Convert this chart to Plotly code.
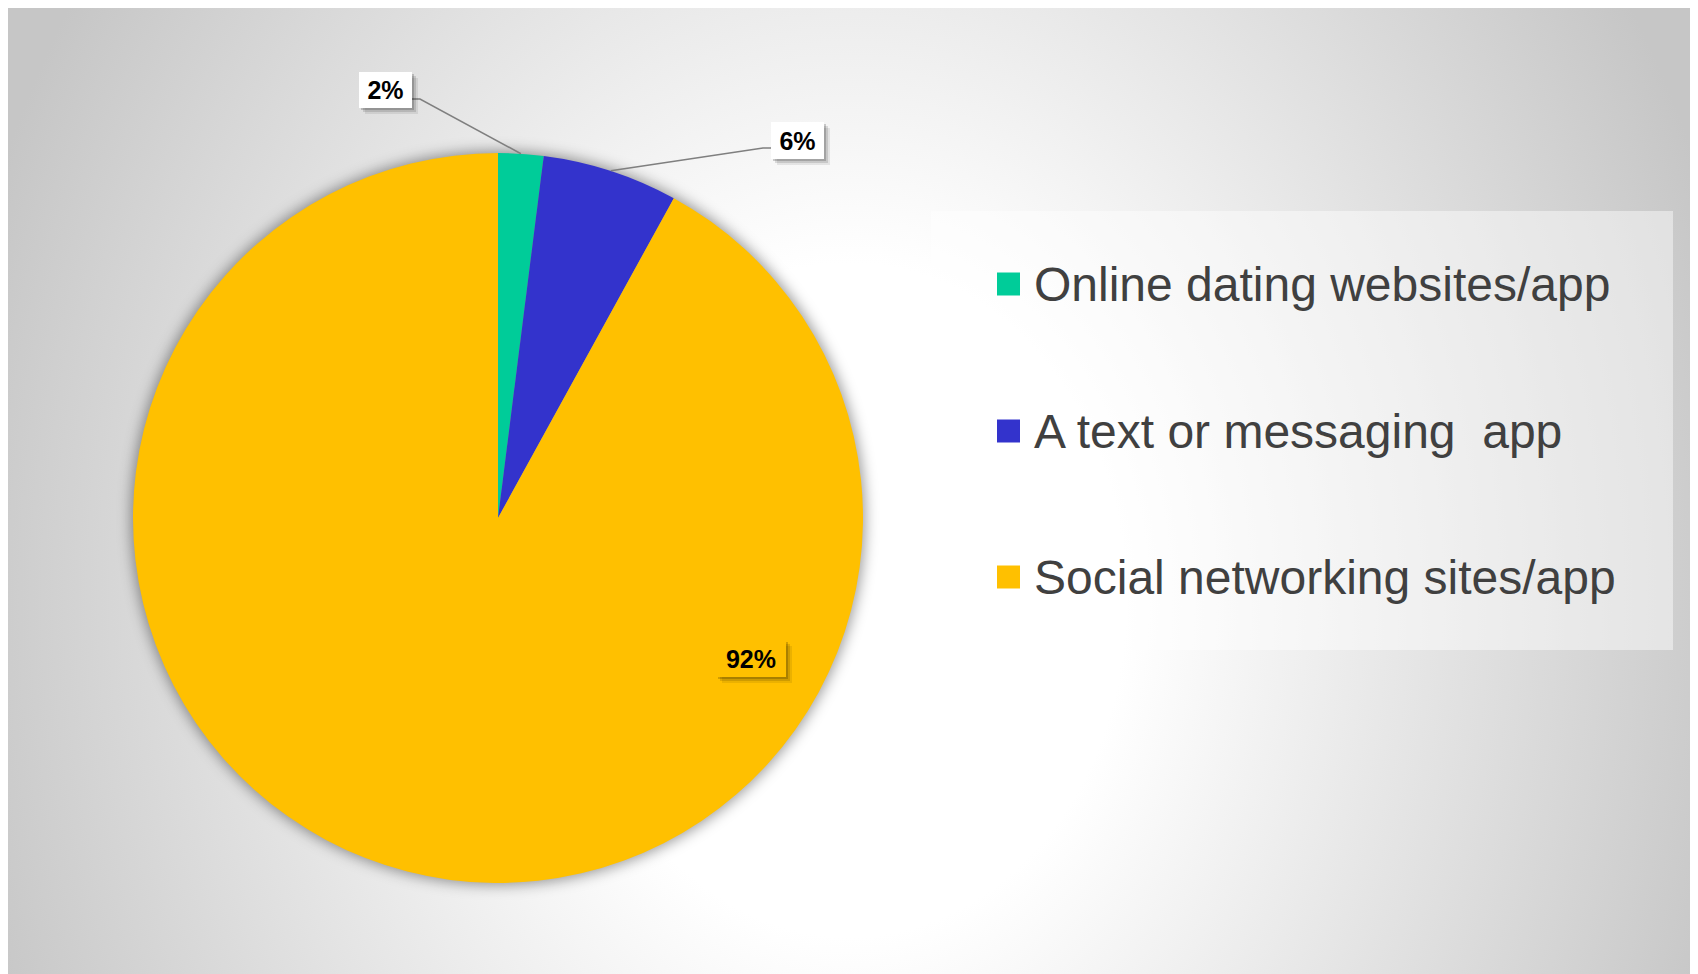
import base64
import math
import plotly.graph_objects as go

# ---- data ----
categories = ["Online dating websites/app", "A text or messaging  app", "Social networking sites/app"]
values = [2, 6, 92]
colors = ["#00CC99", "#3333CC", "#FFC000"]

# ---- layout constants (page pixels) ----
PW, PH = 1698, 974                 # page size
OFF = 8                            # default body margin of the html page
W, H = PW - OFF, PH - OFF          # figure size
CX, CY, R = 498, 518, 365          # pie centre / radius (page pixels)


def px(x):
    return (x - OFF) / W


def py(y):
    return 1 - (y - OFF) / H


# background: elliptical radial gradient + soft pie shadow (figure pixel coords)
gcx, gcy = 850 - OFF, 600 - OFF
svg = f'''<svg xmlns="http://www.w3.org/2000/svg" width="{W}" height="{H}" viewBox="0 0 {W} {H}">
<defs>
<radialGradient id="g" gradientUnits="userSpaceOnUse" cx="{gcx}" cy="{gcy}" r="920"
 gradientTransform="translate({gcx},{gcy}) scale(1,1.22) translate({-gcx},{-gcy})">
<stop offset="0" stop-color="#ffffff"/>
<stop offset="0.3" stop-color="#ffffff"/>
<stop offset="1" stop-color="#c6c6c6"/>
</radialGradient>
<filter id="b" x="-20%" y="-20%" width="140%" height="140%"><feGaussianBlur stdDeviation="7"/></filter>
</defs>
<rect x="0" y="0" width="{W}" height="{H}" fill="url(#g)"/>
<circle cx="{CX-OFF}" cy="{CY-OFF}" r="{R+2}" fill="#000000" fill-opacity="0.4" filter="url(#b)"/>
</svg>'''
src = "data:image/svg+xml;base64," + base64.b64encode(svg.encode()).decode()

fig = go.Figure()
fig.add_trace(go.Pie(
    labels=categories,
    values=values,
    marker=dict(colors=colors, line=dict(width=0)),
    sort=False,
    direction="clockwise",
    rotation=0,
    textinfo="none",
    showlegend=False,
    domain=dict(x=[px(CX - R), px(CX + R)], y=[py(CY + R), py(CY - R)]),
))

shapes = []
annotations = []
total = sum(values)

# ---- data labels ----
label_boxes = [  # (box x0, y0, x1, y1, elbow x, elbow y, end x, bg)
    (359, 72, 412, 108, 420, 99, 412, "white"),
    (771, 122, 824, 159, 763, 148, 771, "white"),
    (716, 640, 786, 677, None, None, None, colors[2]),
]
cum = 0
for i, v in enumerate(values):
    theta = math.radians(360 * (cum + v / 2) / total)
    cum += v
    x0, y0, x1, y1, ex, ey, endx, bg = label_boxes[i]
    if ex is not None:
        sx = CX + R * math.sin(theta)
        sy = CY - R * math.cos(theta)
        shapes.append(dict(type="path", xref="paper", yref="paper",
                           path=f"M {px(sx)},{py(sy)} L {px(ex)},{py(ey)} L {px(endx)},{py(ey)}",
                           line=dict(color="#7f7f7f", width=1.5), layer="above"))
    # soft shadow
    for off, op in ((6, 0.08), (4, 0.12), (2, 0.18)):
        shapes.append(dict(type="rect", xref="paper", yref="paper",
                           x0=px(x0 + off), x1=px(x1 + off), y0=py(y0 + off), y1=py(y1 + off),
                           fillcolor=f"rgba(0,0,0,{op})", line=dict(width=0), layer="above"))
    annotations.append(dict(
        xref="paper", yref="paper",
        x=px((x0 + x1) / 2), y=py((y0 + y1) / 2), xanchor="center", yanchor="middle",
        text=f"<b>{v}%</b>", showarrow=False,
        width=x1 - x0, height=y1 - y0, bgcolor=bg, borderpad=0, borderwidth=0,
        font=dict(family="Liberation Sans, Arial, sans-serif", size=25, color="#000000"),
    ))

# ---- legend (drawn manually) ----
shapes.append(dict(type="rect", xref="paper", yref="paper",
                   x0=px(931), x1=px(1673), y0=py(211), y1=py(650),
                   fillcolor="rgba(255,255,255,0.45)", line=dict(width=0), layer="below"))
leg_y = [284, 431, 577]
for i, cat in enumerate(categories):
    yc = leg_y[i]
    shapes.append(dict(type="rect", xref="paper", yref="paper",
                       x0=px(997), x1=px(1020), y0=py(yc - 11.5), y1=py(yc + 11.5),
                       fillcolor=colors[i], line=dict(width=0), layer="above"))
    annotations.append(dict(
        xref="paper", yref="paper", x=px(1032), y=py(yc), xanchor="left", yanchor="middle",
        text=cat.replace("  ", "&nbsp; "), showarrow=False,
        font=dict(family="Liberation Sans, Arial, sans-serif", size=48, color="#404040"),
    ))

fig.update_layout(
    width=W, height=H,
    margin=dict(l=0, r=0, t=0, b=0),
    paper_bgcolor="white",
    plot_bgcolor="rgba(0,0,0,0)",
    shapes=shapes,
    annotations=annotations,
    images=[dict(source=src, xref="paper", yref="paper", x=0, y=1, sizex=1, sizey=1,
                 xanchor="left", yanchor="top", sizing="stretch", layer="below")],
)
fig.write_html("out.html")
